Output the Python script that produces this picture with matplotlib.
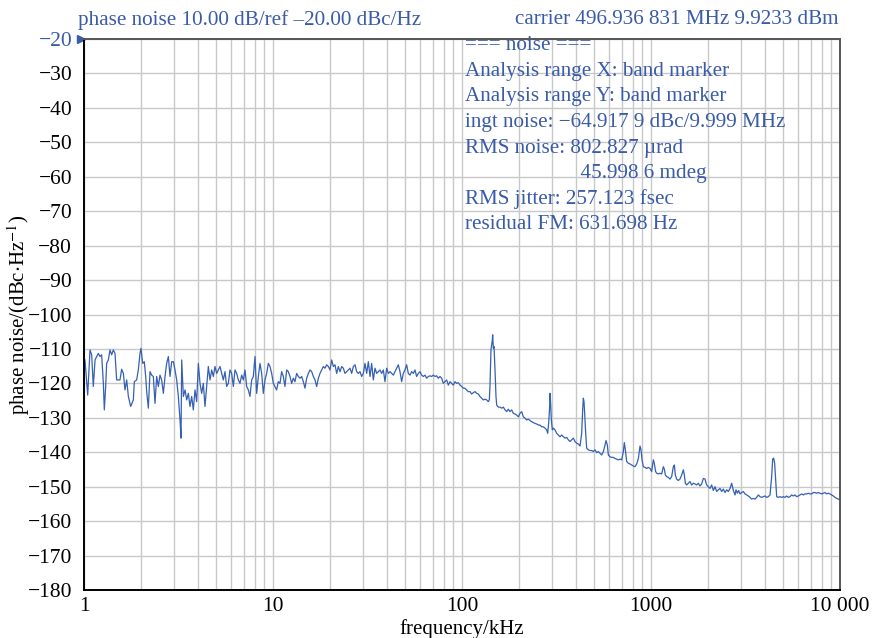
import numpy as np
import matplotlib
matplotlib.use('Agg')
import matplotlib.pyplot as plt
import matplotlib.ticker as ticker

plt.rcParams['font.family'] = ['Liberation Serif', 'DejaVu Serif']
plt.rcParams['mathtext.fontset'] = 'stix'

# 1 - 10 kHz
freq_a = [1.012, 1.046, 1.076, 1.098, 1.120, 1.144, 1.167, 1.191, 1.215, 1.240,
          1.266, 1.281, 1.302, 1.318, 1.345, 1.373, 1.401, 1.429, 1.459, 1.489,
          1.519, 1.550, 1.582, 1.615, 1.648, 1.682, 1.717, 1.766, 1.824, 1.846,
          1.899, 1.938, 1.978, 2.002, 2.044, 2.085, 2.120, 2.146, 2.190, 2.235,
          2.280, 2.327, 2.375, 2.424, 2.474, 2.524, 2.576, 2.630, 2.683, 2.738,
          2.795, 2.851, 2.910, 2.970, 3.030, 3.093, 3.156, 3.221, 3.261, 3.288,
          3.355, 3.424, 3.494, 3.565, 3.638, 3.713, 3.788, 3.867, 3.946, 4.027,
          4.110, 4.194, 4.279, 4.367, 4.457, 4.548, 4.642, 4.737, 4.834, 4.933,
          5.034, 5.138, 5.243, 5.351, 5.460, 5.572, 5.687, 5.803, 5.922, 6.043,
          6.168, 6.293, 6.423, 6.554, 6.689, 6.826, 6.966, 7.110, 7.255, 7.404,
          7.555, 7.711, 7.869, 8.031, 8.195, 8.364, 8.535, 8.710, 8.889, 9.071,
          9.257, 9.447, 9.641, 9.838, 10.04]
pn_a = [-113.2, -123.4, -110.3, -111.7, -120.9, -113.2, -112.2, -111.3, -112.2, -111.7,
        -120.0, -127.7, -120.9, -114.2, -113.2, -110.3, -111.7, -110.3, -111.3, -119.0,
        -119.0, -119.0, -115.9, -117.1, -121.9, -119.0, -123.8, -126.7, -124.8, -119.5,
        -119.0, -116.1, -111.3, -109.8, -114.2, -113.7, -118.0, -122.4, -127.2, -116.6,
        -117.6, -118.0, -125.8, -118.0, -120.9, -117.6, -119.0, -122.9, -118.0, -114.2,
        -112.2, -118.0, -113.7, -113.7, -116.1, -119.0, -123.8, -130.6, -135.9, -113.2,
        -123.8, -121.9, -124.8, -122.9, -126.7, -123.8, -127.7, -121.9, -125.3, -114.2,
        -120.0, -122.9, -120.0, -126.7, -120.9, -115.1, -119.0, -116.1, -118.0, -115.1,
        -117.1, -116.1, -115.1, -117.1, -119.0, -116.6, -120.9, -120.0, -116.1, -117.1,
        -120.9, -116.1, -117.1, -119.0, -120.0, -117.6, -119.0, -116.1, -120.9, -121.9,
        -123.8, -119.0, -118.0, -112.2, -122.9, -118.0, -114.2, -117.1, -122.9, -119.0,
        -117.1, -114.2, -115.1, -117.1, -120.0]

# 10 - 100 kHz
freq_b = [10.45, 10.67, 10.89, 11.11, 11.34, 11.57, 11.81, 12.05, 12.30, 12.55,
          12.81, 13.07, 13.34, 13.61, 13.90, 14.18, 14.47, 14.77, 15.07, 15.38,
          15.70, 16.02, 16.35, 16.68, 17.02, 17.38, 17.73, 18.09, 18.47, 18.84,
          19.23, 19.63, 20.03, 20.44, 20.86, 21.28, 21.72, 22.17, 22.62, 23.09,
          23.56, 24.04, 24.54, 25.04, 25.55, 26.08, 26.61, 27.16, 27.72, 28.28,
          28.86, 29.45, 30.06, 30.68, 31.31, 31.95, 32.60, 33.27, 33.95, 34.65,
          35.36, 36.08, 36.82, 37.58, 38.35, 39.13, 39.94, 40.76, 41.59, 42.45,
          43.32, 44.20, 45.11, 46.03, 46.98, 47.94, 48.92, 49.92, 50.95, 51.99,
          53.06, 54.15, 55.26, 56.39, 57.55, 58.74, 59.94, 61.17, 62.42, 63.70,
          65.02, 66.35, 67.71, 69.09, 70.51, 71.95, 73.45, 74.95, 76.48, 78.05,
          79.65, 81.30, 82.96, 84.66, 86.40, 88.17, 89.97, 91.84, 93.71, 95.63,
          97.59, 99.59, 101.6]
pn_b = [-121.9, -119.5, -120.0, -116.6, -118.0, -120.9, -116.1, -116.6, -118.0, -120.0,
        -118.5, -119.5, -117.1, -118.0, -118.5, -118.0, -119.5, -121.4, -118.5, -117.1,
        -116.1, -116.6, -118.0, -119.0, -120.9, -118.5, -117.1, -116.1, -115.1, -115.6,
        -114.6, -115.1, -116.1, -113.2, -115.1, -114.6, -117.1, -115.1, -116.6, -115.1,
        -115.6, -117.1, -116.6, -116.1, -115.6, -117.1, -115.1, -114.6, -116.6, -117.1,
        -116.6, -118.0, -117.1, -114.2, -117.1, -113.7, -118.0, -114.2, -119.0, -115.6,
        -117.1, -116.6, -116.1, -117.1, -116.1, -119.5, -115.6, -117.1, -116.6, -117.1,
        -117.6, -116.6, -115.6, -114.6, -116.6, -119.5, -117.1, -116.1, -114.6, -117.1,
        -117.6, -116.6, -117.1, -116.1, -118.0, -117.1, -116.6, -117.6, -118.0, -117.6,
        -118.5, -118.0, -117.8, -118.0, -117.6, -118.0, -117.8, -118.5, -118.0, -118.5,
        -120.0, -119.5, -119.0, -120.5, -119.5, -120.0, -120.5, -119.5, -120.0, -119.8,
        -120.5, -120.9, -121.4]

# 100 kHz - 1 MHz
freq_c = [103.7, 105.9, 108.0, 110.2, 112.5, 114.8, 117.2, 119.6, 122.0, 124.5,
          127.1, 129.7, 132.3, 135.0, 137.8, 139.5, 140.6, 142.3, 144.7, 145.3,
          146.5, 147.7, 149.5, 151.3, 152.6, 155.7, 158.9, 162.2, 165.5, 168.9,
          172.3, 175.9, 179.5, 183.2, 186.9, 190.7, 194.6, 198.7, 202.7, 206.9,
          211.1, 215.4, 219.9, 224.4, 229.0, 233.7, 238.4, 243.3, 248.4, 253.4,
          258.6, 263.9, 269.3, 274.9, 280.5, 284.0, 287.4, 291.0, 292.2, 294.5,
          296.9, 300.6, 304.2, 310.5, 316.9, 323.4, 330.0, 336.8, 343.8, 350.8,
          358.0, 365.3, 372.8, 380.5, 388.3, 396.3, 404.4, 412.7, 421.1, 429.8,
          435.0, 438.5, 442.1, 445.7, 451.2, 456.7, 466.1, 475.6, 485.4, 495.4,
          505.5, 515.9, 526.5, 537.4, 548.3, 559.6, 571.1, 578.1, 587.5, 594.8,
          607.0, 619.4, 632.1, 645.1, 658.3, 671.9, 685.5, 699.6, 714.0, 722.7,
          731.6, 743.6, 759.0, 774.5, 790.4, 806.6, 823.1, 840.2, 857.4, 874.9,
          885.6, 896.5, 911.2, 930.0, 948.7, 968.1, 987.9]
pn_c = [-121.4, -121.9, -122.4, -122.4, -123.1, -122.7, -122.4, -122.9, -123.1, -123.8,
        -124.3, -124.8, -124.6, -124.8, -125.3, -124.8, -120.9, -110.3, -107.4, -105.9,
        -109.8, -109.3, -116.1, -123.8, -126.3, -126.9, -126.9, -127.2, -126.9, -127.7,
        -128.2, -127.5, -128.2, -127.7, -128.7, -128.9, -129.2, -129.7, -128.7, -128.2,
        -129.7, -130.1, -130.6, -130.4, -130.8, -131.1, -131.4, -131.6, -131.8, -132.1,
        -132.1, -132.6, -132.6, -133.0, -133.5, -134.5, -131.6, -126.7, -122.9, -125.8,
        -130.6, -133.5, -133.0, -133.5, -134.5, -135.0, -135.5, -135.0, -135.5, -135.9,
        -135.7, -136.4, -136.9, -136.4, -135.9, -136.9, -137.4, -137.6, -138.2, -134.5,
        -127.7, -124.3, -125.3, -128.7, -134.5, -138.8, -139.3, -139.5, -139.5, -139.8,
        -139.3, -140.1, -139.8, -140.3, -140.8, -139.8, -137.9, -136.6, -137.9, -140.8,
        -141.3, -141.5, -141.5, -141.8, -142.0, -142.2, -142.0, -142.2, -139.8, -137.2,
        -139.3, -142.7, -143.2, -143.4, -143.7, -144.0, -144.2, -143.4, -141.8, -138.2,
        -139.3, -142.2, -144.2, -144.4, -144.7, -144.4, -144.7]

# 1 - 10 MHz
freq_d = [1008, 1020, 1029, 1041, 1058, 1072, 1094, 1116, 1139, 1162,
          1177, 1191, 1211, 1235, 1260, 1286, 1313, 1329, 1345, 1367,
          1395, 1423, 1453, 1483, 1501, 1519, 1544, 1576, 1608, 1641,
          1675, 1709, 1744, 1780, 1816, 1854, 1892, 1931, 1970, 2011,
          2052, 2094, 2137, 2181, 2226, 2272, 2318, 2366, 2414, 2464,
          2515, 2566, 2618, 2672, 2727, 2783, 2817, 2863, 2910, 2958,
          3018, 3080, 3144, 3208, 3273, 3340, 3409, 3479, 3551, 3623,
          3698, 3773, 3851, 3930, 4010, 4093, 4176, 4262, 4349, 4403,
          4457, 4511, 4567, 4623, 4717, 4814, 4913, 5013, 5117, 5221,
          5328, 5437, 5549, 5663, 5779, 5897, 6018, 6142, 6268, 6397,
          6527, 6661, 6798, 6937, 7079, 7225, 7373, 7523, 7678, 7835,
          7996, 8160, 8327, 8499, 8673, 8851, 9032, 9220, 9408, 9603,
          9799, 10000]
pn_d = [-145.6, -143.7, -142.2, -143.2, -145.6, -146.1, -146.3, -146.1, -146.3, -144.2,
        -144.9, -146.6, -147.1, -147.3, -147.8, -147.1, -144.2, -143.7, -146.6, -147.8,
        -148.2, -147.8, -146.6, -145.1, -146.6, -149.0, -149.5, -149.0, -148.5, -149.5,
        -149.0, -149.2, -149.5, -149.0, -149.8, -149.2, -147.6, -147.8, -149.5, -150.0,
        -150.5, -149.5, -151.1, -150.0, -151.4, -150.9, -150.5, -151.4, -150.7, -151.7,
        -150.9, -151.4, -150.5, -149.0, -151.1, -152.4, -150.9, -151.9, -151.1, -152.1,
        -151.7, -151.4, -152.1, -152.4, -152.7, -153.1, -153.6, -153.4, -153.6, -153.1,
        -152.4, -152.9, -153.1, -152.9, -152.7, -153.1, -152.9, -152.4, -147.1, -142.0,
        -141.7, -143.2, -148.0, -152.9, -153.1, -152.9, -153.1, -152.9, -153.1, -152.7,
        -153.1, -152.9, -152.4, -152.7, -152.4, -152.9, -152.7, -152.4, -152.1, -152.4,
        -152.1, -152.1, -151.9, -152.1, -152.1, -151.7, -151.7, -151.9, -151.7, -151.9,
        -152.1, -151.9, -151.7, -152.1, -151.9, -152.1, -152.4, -152.7, -153.1, -153.4,
        -153.6, -153.8]

xticks = [1, 10, 100, 1000, 10000]
xtick_labels = ['1', '10', '100', '1000', '10 000']
yticks = list(range(-180, -10, 10))

notes = ['=== noise ===',
         'Analysis range X: band marker',
         'Analysis range Y: band marker',
         'ingt noise: \u221264.917 9 dBc/9.999 MHz',
         'RMS noise: 802.827 \u00b5rad',
         '                      45.998 6 mdeg',
         'RMS jitter: 257.123 fsec',
         'residual FM: 631.698 Hz']

blue = '#3a5ba8'
line_blue = '#3560b3'

freq = np.concatenate([freq_a, freq_b, freq_c, freq_d])
pn = np.concatenate([pn_a, pn_b, pn_c, pn_d])

fig = plt.figure(figsize=(8.75, 6.38), dpi=100)
ax = fig.add_axes([84/875, 1 - 590/638, (840-84)/875, (590-39)/638])

ax.plot(freq, pn, color=line_blue, lw=0.9)
ax.set_xscale('log')
ax.set_xlim(1, 10000)
ax.set_ylim(-180, -20)

ax.set_xticks(xticks)
ax.set_xticklabels(xtick_labels)
ax.xaxis.set_minor_locator(ticker.LogLocator(base=10, subs=np.arange(2, 10)))
ax.xaxis.set_minor_formatter(ticker.NullFormatter())
ax.set_yticks(yticks)
ax.set_yticklabels([('\u2212%d' % -v) for v in yticks])
ax.get_yticklabels()[-1].set_color(blue)

ax.grid(True, which='both', axis='x', color='#c8c8c8', lw=1.0)
ax.grid(True, which='major', axis='y', color='#c8c8c8', lw=1.0)
ax.set_axisbelow(True)
ax.tick_params(which='both', length=0, labelsize=15.5)
ax.tick_params(axis='y', pad=8.5)
ax.tick_params(axis='x', pad=5)

ax.spines['left'].set_color('black')
ax.spines['bottom'].set_color('black')
ax.spines['top'].set_color('#555555')
ax.spines['right'].set_color('#555555')
for s in ax.spines.values():
    s.set_linewidth(1.4)

ax.set_xlabel('frequency/kHz', fontsize=15, labelpad=2)
ax.set_ylabel('phase noise/(dBc$\\cdot$Hz$^{-1}$)', fontsize=15)
ax.yaxis.set_label_coords(-0.069, 0.5)

# small reference marker at the top left
ax.plot([0.965], [-20], marker='>', color=blue, ms=6, clip_on=False)

fig.text(78/875, 1 - 20/638, 'phase noise 10.00 dB/ref \u201320.00 dBc/Hz',
         color=blue, fontsize=15.2, ha='left', va='center')
fig.text(839/875, 1 - 20/638, 'carrier 496.936 831 MHz 9.9233 dBm',
         color=blue, fontsize=15.2, ha='right', va='center')

for i, line in enumerate(notes):
    fig.text(465/875, 1 - (46 + 25.5*i)/638, line, color=blue,
             fontsize=15.2, ha='left', va='center')

plt.savefig('out.png')
